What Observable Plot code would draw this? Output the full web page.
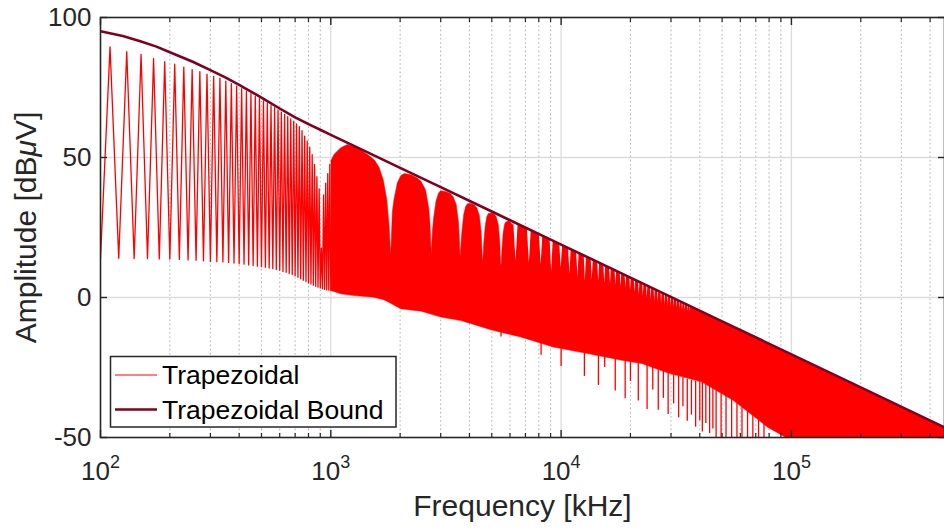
<!DOCTYPE html>
<html><head><meta charset="utf-8">
<script src="https://cdn.jsdelivr.net/npm/d3@7"></script>
<script src="https://cdn.jsdelivr.net/npm/@observablehq/plot@0.6"></script>
<style>
html,body{margin:0;padding:0;background:#fff;}
#chart{width:944px;height:529px;overflow:hidden;}
</style></head><body><div id="chart"></div>
<script>
// ---------- data (frequency in kHz, amplitude in dBµV) ----------
// individually resolved harmonics: even harmonics (troughs) and odd harmonics (peaks)
const troughKHz = [100,120,140,160,180,200,220,240,260,280,300,320,340,360,380,400,420,440,460,480,500,520,540,560,580,600,620,640,660,680,700,720,740,760,780,800,820,840,860,880,900,920,940,960,980,1000];
const troughDb = [14.0,14.0,13.9,13.9,13.8,13.7,13.6,13.4,13.3,13.1,
                  12.9,12.8,12.7,12.5,12.3,12.1,11.9,11.6,11.4,11.2,
                  11.0,10.8,10.5,10.3,10.0,9.7,9.3,9.0,8.6,8.2,
                  7.7,7.2,6.7,6.2,5.7,5.2,4.8,4.4,4.0,3.7,
                  3.4,3.1,2.9,2.7,2.6,2.5];
const peakKHz = [110,130,150,170,190,210,230,250,270,290,310,330,350,370,390,410,430,450,470,490,510,530,550,570,590,610,630,650,670,690,710,730,750,770,790,810,830,850,870,890,910,930,950,970,990];
const peakDb = [89.5,87.8,86.8,85.3,84.2,83.3,82.3,81.4,80.7,79.8,
                79.0,78.3,77.3,76.4,75.5,74.6,73.7,72.8,71.9,71.0,
                70.2,69.4,68.6,67.8,67.0,66.2,65.4,64.6,63.8,63.0,
                62.0,61.0,59.6,57.6,55.8,53.7,51.0,47.5,43.2,38.8,
                17.6,36.6,40.8,44.2,47.5];

// dense part: upper envelope (sinc lobes, then the bound) and lower envelope
const upperKHz = [1000,1034,1105,1180,1260,1350,1450,1550,1620,1690,1750,1790,1820,
                  1850,1880,1945,2015,2084,2229,2367,2464,2577,2662,2696,2730,
                  2762,2794,2861,2934,2993,3152,3306,3397,3501,3585,3612,3640,
                  3673,3706,3777,3849,3917,4070,4212,4309,4418,4499,4529,4550,
                  4583,4617,4688,4760,4826,4984,5128,5226,5336,5417,5447,5460,
                  5494,5528,5600,5675,5743,5898,6037,6132,
                  6250,10000,20000,50000,100000,200000,462000];
const upperDb = [48.8,51.2,53.5,54.6,53.8,52.6,51.0,49.0,46.5,42.0,35.0,26.0,15.1,
                 30.6,35.0,41.0,43.6,44.3,43.8,42.8,41.5,38.5,32.0,26.2,15.1,
                 23.8,28.3,34.4,37.2,38.1,37.9,37.1,36.0,33.3,26.9,21.2,14.4,
                 19.0,23.5,29.7,32.5,33.5,33.6,33.0,32.0,29.3,23.1,17.4,12.2,
                 15.2,19.8,26.0,28.9,30.0,30.2,29.7,28.8,26.1,19.9,14.2,11.6,
                 12.1,16.7,23.0,26.0,27.0,27.3,26.9,26.0,
                 26.8,18.9,7.1,-8.5,-20.3,-32.1,-46.4];
const lowerKHz = [1000,1105,1259,1535,1700,1826,2009,2470,3004,3664,4955,6671,9246,13040,18300,22390,29150,40900,56000,78790,109800,462000];
const lowerDb = [2.5,1.3,0.7,0.1,-0.8,-2.1,-4.0,-4.9,-7.0,-8.2,-11.5,-14.1,-17.7,-20.0,-22.4,-23.6,-27.0,-30.2,-36.8,-46.3,-53,-53];

// narrow notches of the upper envelope (sinc nulls)
const notchKHz = [6370,7280,8190,9100,10010,10920,11830,12740,13650,14560,15470,16380,17290,18200,19110,20020,20930,21840,22750,23660,24570,25480,26390,27300,28210,29120,30030,30940,31850,32760,33670,34580,35490,36400];
const notchTop = [26.6,24.3,22.3,20.5,18.9,17.4,16.0,14.8,13.6,12.5,11.5,10.5,9.6,8.7,7.9,7.1,6.3,5.6,4.9,4.2,3.6,3.0,2.4,1.8,1.2,0.7,0.2,-0.3,-0.8,-1.3,-1.8,-2.2,-2.7,-3.1];
const notchDip = [12.8,12.2,11.6,9.0,10.5,8.2,7.0,5.8,6.2,5.6,5.0,4.6,4.2,3.8,3.1,2.4,1.6,0.8,0.3,-0.4,-0.8,-1.4,-1.8,-2.2,-2.6,-2.9,-3.3,-3.7,-4.0,-4.3,-4.6,-4.8,-5.1,-5.3];

// downward spikes below the lower envelope
const spikeKHz = [5485,8185,10000,12620,14520,15460,17180,18970,20000,21630,23620,25000,26410,27800,29150,30800,32370,33800,35300,36800,38380,40000,41040,42500,44140,45600,47090,49500,52000,55000,58000,61000,64500,68000,72000,76000];
const spikeTop = [-12.3,-16.4,-18.3,-19.8,-20.6,-21.0,-21.9,-22.6,-23.0,-23.4,-24.2,-25.0,-25.8,-26.4,-27.0,-27.6,-28.2,-28.7,-29.2,-29.6,-29.9,-30.1,-30.4,-31.1,-31.8,-32.5,-33.2,-34.2,-35.2,-36.4,-37.8,-39.2,-40.7,-42.2,-43.8,-45.3];
const spikeTip = [-14.1,-20.6,-24.6,-28.2,-31.4,-25.0,-33.4,-36.2,-30.0,-37.0,-40.0,-33.0,-40.3,-36.0,-41.8,-38.0,-43.0,-39.0,-44.2,-42.0,-46.3,-44.0,-48.0,-45.0,-48.6,-47.0,-50,-50,-50,-50,-50,-50,-50,-50,-50,-50];

// trapezoidal bound
const boundKHz = [100,125,150,175,200,250,300,350,400,500,600,700,800,900,1000,1105,1500,2000,3000,5000,10000,20000,50000,100000,200000,462000];
const boundDb = [95.1,93.4,91.4,89.6,87.6,84.3,81.2,78.5,75.9,71.4,67.5,64.3,61.9,59.9,58.1,56.4,51.2,46.3,39.4,30.7,18.9,7.1,-8.5,-20.3,-32.1,-46.4];

// axes
const majorTicks = [100,1000,10000,100000];
const minorTicks = [200,300,400,500,600,700,800,900,2000,3000,4000,5000,6000,7000,8000,9000,20000,30000,40000,50000,60000,70000,80000,90000,200000,300000,400000];
const yTicks = [-50,0,50,100];
const seriesNames = ["Trapezoidal","Trapezoidal Bound"];
const xLabel = "Frequency [kHz]";
const yLabel = "Amplitude [dBμV]";

// ---------- build tables ----------
const FONT = '"Liberation Sans", Arial, Helvetica, sans-serif';
const INK = "#262626";
const RED = "#ff0000";
const DARK = "#800020";

const zig = [];
troughKHz.forEach((f, i) => {
  zig.push({f, db: troughDb[i]});
  if (i < peakKHz.length) zig.push({f: peakKHz[i], db: peakDb[i]});
});
const poly = upperKHz.map((f, i) => ({f, db: upperDb[i]}))
  .concat(lowerKHz.map((f, i) => ({f, db: lowerDb[i]})).reverse());
const wedges = notchKHz.flatMap((f, i) => {
  const w = 140 / f;
  return [
    {k: i, f: f * (1 - w), lo: notchTop[i], hi: notchTop[i]},
    {k: i, f, lo: notchDip[i], hi: notchTop[i]},
    {k: i, f: f * (1 + w), lo: notchTop[i], hi: notchTop[i]}
  ];
});
const spikes = spikeKHz.map((f, i) => ({f, top: spikeTop[i], tip: spikeTip[i]}));
const bound = boundKHz.map((f, i) => ({f, db: boundDb[i]}));

const blank = () => "";
const chart = Plot.plot({
  width: 944, height: 529,
  marginLeft: 100, marginRight: 0, marginTop: 17, marginBottom: 92,
  style: {fontFamily: FONT, color: INK, background: "white"},
  x: {type: "log", domain: [100, 462000]},
  y: {domain: [-50, 100]},
  marks: [
    Plot.ruleX(minorTicks, {stroke: "#b8b8b8", strokeWidth: 1.1, strokeDasharray: "1.6,2.6"}),
    Plot.ruleX(majorTicks.slice(1), {stroke: "#dcdcdc", strokeWidth: 1.3}),
    Plot.ruleY([0, 50], {stroke: "#dcdcdc", strokeWidth: 1.3}),
    Plot.line(zig, {x: "f", y: "db", stroke: RED, strokeWidth: 1.3, clip: true}),
    Plot.line(poly, {x: "f", y: "db", fill: RED, stroke: RED, strokeWidth: 0.5, clip: true}),
    Plot.ruleX(spikes, {x: "f", y1: "top", y2: "tip", stroke: RED, strokeWidth: 1.3, clip: true}),
    Plot.area(wedges, {x1: "f", y1: "lo", y2: "hi", z: "k", fill: "white", clip: true}),
    Plot.line(bound, {x: "f", y: "db", stroke: DARK, strokeWidth: 2.6, clip: true}),
    Plot.frame({stroke: INK, strokeWidth: 1.6}),
    Plot.axisX({ticks: majorTicks, tickSize: -7, tickFormat: blank, anchor: "bottom", label: null, strokeWidth: 1.4}),
    Plot.axisX({ticks: majorTicks, tickSize: -7, tickFormat: blank, anchor: "top", label: null, strokeWidth: 1.4}),
    Plot.axisX({ticks: minorTicks, tickSize: -4, tickFormat: blank, anchor: "bottom", label: null, strokeWidth: 1.2}),
    Plot.axisX({ticks: minorTicks, tickSize: -4, tickFormat: blank, anchor: "top", label: null, strokeWidth: 1.2}),
    Plot.axisY({ticks: yTicks, tickSize: -7, tickFormat: blank, anchor: "left", label: null, strokeWidth: 1.4}),
    Plot.axisY({ticks: yTicks, tickSize: -7, tickFormat: blank, anchor: "right", label: null, strokeWidth: 1.4}),
    Plot.axisX({ticks: majorTicks, tickSize: 0, tickPadding: 24, fontSize: 26, anchor: "bottom", label: null,
                tickFormat: d => "10^" + Math.round(Math.log10(d))}),
    Plot.axisY({ticks: yTicks, tickSize: 0, tickPadding: 9, fontSize: 26, anchor: "left", label: null,
                tickFormat: d => String(d)}),
    Plot.text([xLabel], {frameAnchor: "bottom", dy: 69, fontSize: 30, textAnchor: "middle", lineAnchor: "middle"}),
    Plot.text([yLabel], {frameAnchor: "left", dx: -74.6, rotate: -90, fontSize: 30, textAnchor: "middle", lineAnchor: "middle"})
  ]
});
document.getElementById("chart").appendChild(chart);

// ---------- text details: superscripts, italic mu, legend ----------
const svg = d3.select(chart);
svg.selectAll("text").each(function () {
  const m = /^10\^(\d)$/.exec(this.textContent);
  if (m) {
    const t = d3.select(this);
    t.text(null);
    t.append("tspan").text("10");
    t.append("tspan").attr("dy", -12).attr("font-size", 18).text(m[1]);
  } else if (this.textContent === yLabel) {
    const t = d3.select(this);
    t.text(null);
    t.append("tspan").text("Amplitude [dB");
    t.append("tspan").attr("font-style", "italic").text("μ");
    t.append("tspan").text("V]");
  }
});

const leg = svg.append("g").attr("font-family", FONT).attr("font-size", 26.5)
  .attr("fill", "#000").attr("text-anchor", "start");
leg.append("rect").attr("x", 110.5).attr("y", 356.5).attr("width", 285.5).attr("height", 70.5)
  .attr("fill", "white").attr("stroke", INK).attr("stroke-width", 1.5);
[[RED, 1, 375], [DARK, 2.6, 409.5]].forEach(([c, w, y], i) => {
  leg.append("line").attr("x1", 115).attr("x2", 157).attr("y1", y).attr("y2", y)
    .attr("stroke", c).attr("stroke-width", w);
  leg.append("text").attr("x", 162).attr("y", y).attr("dy", "0.35em")
    .attr("text-anchor", "start").text(seriesNames[i]);
});
</script></body></html>
